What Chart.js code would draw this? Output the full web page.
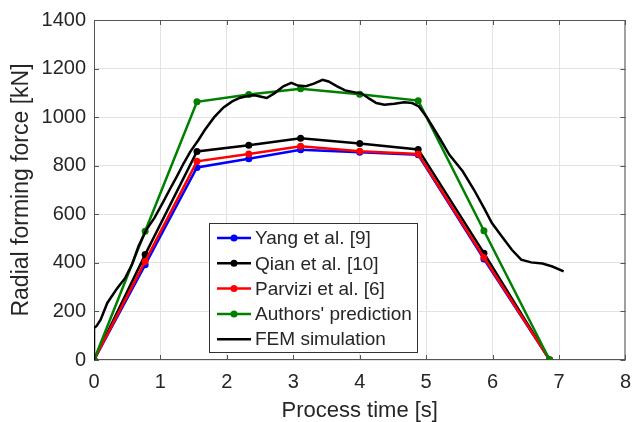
<!DOCTYPE html>
<html>
<head>
<meta charset="utf-8">
<script src="https://cdn.jsdelivr.net/npm/chart.js@4.4.1/dist/chart.umd.min.js"></script>
<style>
  html, body { margin: 0; padding: 0; background: #fff; }
</style>
</head>
<body>
<canvas id="force_chart" width="641" height="422"></canvas>
<script>
// Radial forming force vs process time

// analytical models, all sampled at the same times
const modelTime = [0, 0.77, 1.55, 2.33, 3.11, 4.0, 4.88, 5.87, 6.86] ;
const yang     = [0, 392, 793, 829, 866, 855, 845, 416, 0] ;
const qian     = [0, 434, 859, 884, 913, 891, 867, 440, 0] ;
const parvizi  = [0, 406, 818, 848, 880, 860, 848, 422, 0] ;
const authors  = [0, 530, 1063, 1093, 1117, 1094, 1068, 532, 0] ;

// FEM curve
const femTime  = [0, 0, 0.04, 0.10, 0.20, 0.35, 0.47, 0.57, 0.67, 0.79, 0.91, 1.04, 1.14, 1.25, 1.35, 1.45,
                  1.57, 1.67, 1.81, 1.95, 2.08, 2.20, 2.33, 2.42, 2.50, 2.60, 2.72, 2.85, 2.97, 3.07, 3.19,
                  3.31, 3.44, 3.53, 3.66, 3.78, 3.93, 4.03, 4.15, 4.25, 4.37, 4.52, 4.67, 4.79, 4.89, 5.01,
                  5.21, 5.35, 5.55, 5.72, 5.87, 5.99, 6.14, 6.29, 6.43, 6.58, 6.75, 6.90, 7.07] ;
const femForce = [0, 132, 140, 166, 235, 296, 338, 392, 468, 537, 585, 650, 702, 757, 810, 858,
                  905, 948, 1000, 1040, 1065, 1080, 1088, 1090, 1085, 1079, 1099, 1127, 1141, 1130, 1127,
                  1138, 1154, 1147, 1127, 1110, 1102, 1097, 1075, 1058, 1051, 1055, 1061, 1058, 1044, 1000,
                  910, 845, 777, 701, 626, 564, 509, 454, 413, 402, 397, 385, 365] ;

const seriesNames  = ['Yang et al. [9]', 'Qian et al. [10]', 'Parvizi et al. [6]', "Authors' prediction", 'FEM simulation'] ;
const seriesColors = ['#0000ff', '#000000', '#ff0000', '#008000', '#000000'] ;

const xTicks = [0, 1, 2, 3, 4, 5, 6, 7, 8] ;
const yTicks = [0, 200, 400, 600, 800, 1000, 1200, 1400] ;

const FONT = "'Liberation Sans', Arial, Helvetica, sans-serif" ;
const TXT = '#262626' ;

function toXY(xs, ys) {
    return ys.map((y, i) => ({x: xs[i], y: y})) ;
}

const modelSets = [yang, qian, parvizi, authors] ;
let datasets = [] ;
for (let i = 0; i < 4; i++) {
    datasets.push({
        label: seriesNames[i],
        data: toXY(modelTime, modelSets[i]),
        borderColor: seriesColors[i],
        backgroundColor: seriesColors[i],
        borderWidth: 2.5,
        pointRadius: 3.5,
        pointBorderWidth: 0,
        showLine: true,
        order: 5 - i,
    }) ;
}
datasets.push({
    label: seriesNames[4],
    data: toXY(femTime, femForce),
    borderColor: seriesColors[4],
    backgroundColor: seriesColors[4],
    borderWidth: 2.5,
    pointRadius: 0,
    showLine: true,
    order: 0,
}) ;

// box round the axes, with ticks pointing in on all four sides
const framePlugin = {
    id: 'frame',
    beforeDatasetsDraw(chart) {
        const {ctx, chartArea: a, scales} = chart ;
        ctx.save() ;
        ctx.strokeStyle = '#555555' ;
        ctx.lineWidth = 1 ;
        ctx.strokeRect(a.left + 0.5, a.top + 0.5, a.right - a.left - 1, a.bottom - a.top - 1) ;
        ctx.beginPath() ;
        xTicks.forEach(v => {
            const px = Math.round(scales.x.getPixelForValue(v)) + 0.5 ;
            ctx.moveTo(px, a.bottom) ; ctx.lineTo(px, a.bottom - 5) ;
            ctx.moveTo(px, a.top) ; ctx.lineTo(px, a.top + 5) ;
        }) ;
        yTicks.forEach(v => {
            const py = Math.round(scales.y.getPixelForValue(v)) + 0.5 ;
            ctx.moveTo(a.left, py) ; ctx.lineTo(a.left + 5, py) ;
            ctx.moveTo(a.right, py) ; ctx.lineTo(a.right - 5, py) ;
        }) ;
        ctx.stroke() ;
        ctx.restore() ;
    }
} ;

// legend box inside the axes, like matlab
const legendPlugin = {
    id: 'boxLegend',
    afterDatasetsDraw(chart) {
        const {ctx, chartArea: a} = chart ;
        const left = a.left + 115, top = a.top + 203, w = 208, h = 129 ;
        ctx.save() ;
        ctx.fillStyle = '#ffffff' ;
        ctx.fillRect(left, top, w, h) ;
        ctx.strokeStyle = '#333333' ;
        ctx.lineWidth = 1 ;
        ctx.strokeRect(left + 0.5, top + 0.5, w, h) ;
        ctx.font = '19px ' + FONT ;
        ctx.textBaseline = 'middle' ;
        for (let i = 0; i < seriesNames.length; i++) {
            const yy = top + 15 + i * 25.3 ;
            ctx.strokeStyle = seriesColors[i] ;
            ctx.lineWidth = 2.5 ;
            ctx.beginPath() ;
            ctx.moveTo(left + 8, yy) ;
            ctx.lineTo(left + 42, yy) ;
            ctx.stroke() ;
            if (i < 4) {
                ctx.fillStyle = seriesColors[i] ;
                ctx.beginPath() ;
                ctx.arc(left + 25, yy, 3.5, 0, Math.PI * 2) ;
                ctx.fill() ;
            }
            ctx.fillStyle = TXT ;
            ctx.fillText(seriesNames[i], left + 46, yy + 1) ;
        }
        ctx.restore() ;
    }
} ;

const ctx_force = document.getElementById('force_chart').getContext('2d') ;
let force_chart = new Chart(ctx_force, {
    type: 'scatter',
    data: { datasets: datasets },
    options: {
        responsive: false,
        animation: false,
        layout: { padding: { top: 20, right: 6, left: 0, bottom: 0 } },
        plugins: {
            legend: { display: false },
            tooltip: { enabled: false },
        },
        scales: {
            x: {
                type: 'linear',
                min: 0, max: 8,
                afterBuildTicks: s => { s.ticks = xTicks.map(v => ({value: v})) ; },
                ticks: { color: TXT, padding: 10, font: { family: FONT, size: 20 },
                         callback: v => String(v) },
                grid: { color: '#e3e3e3', drawTicks: false },
                border: { display: false },
                title: {
                    display: true, text: 'Process time [s]', color: TXT,
                    font: { family: FONT, size: 22, lineHeight: 1 },
                    padding: { top: 0, bottom: 0 },
                },
                afterFit: s => { s.height = 62 ; },
            },
            y: {
                min: 0, max: 1400,
                afterBuildTicks: s => { s.ticks = yTicks.map(v => ({value: v})) ; },
                ticks: { color: TXT, padding: 8, font: { family: FONT, size: 20 },
                         callback: v => String(v) },
                grid: { color: '#e3e3e3', drawTicks: false },
                border: { display: false },
                title: {
                    display: true, text: 'Radial forming force [kN]', color: TXT,
                    font: { family: FONT, size: 23, lineHeight: 1 },
                    padding: { top: 10, bottom: 0 },
                },
                afterFit: s => { s.width = 94 ; },
            }
        }
    },
    plugins: [framePlugin, legendPlugin]
}) ;
</script>
</body>
</html>
